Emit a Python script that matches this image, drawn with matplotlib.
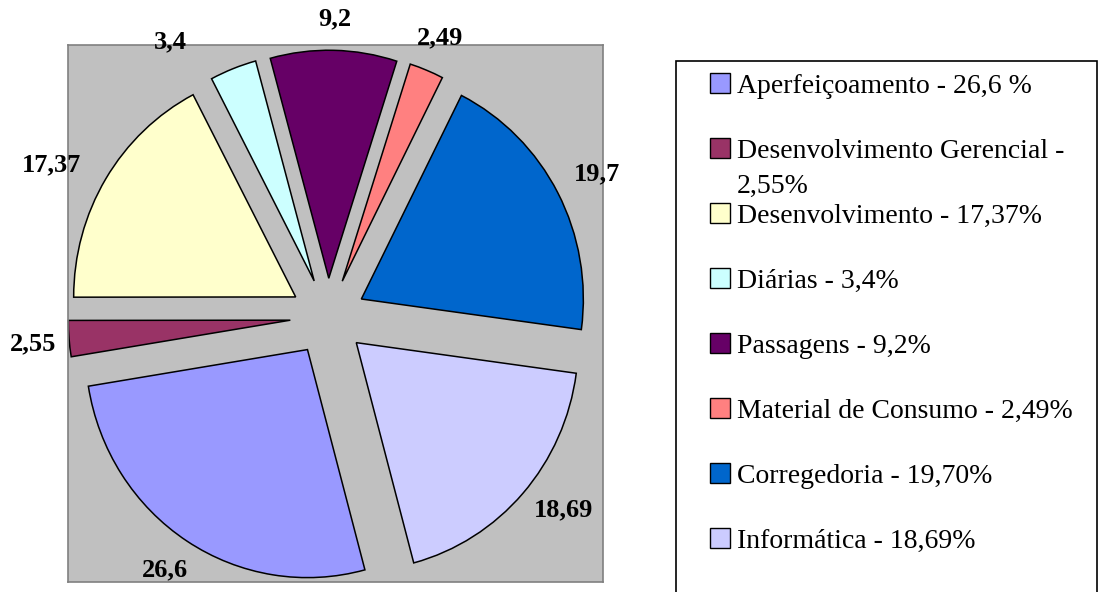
import numpy as np
import matplotlib.pyplot as plt
from matplotlib.patches import Rectangle

categorias = ["Aperfeiçoamento", "Desenvolvimento Gerencial", "Desenvolvimento",
              "Diárias", "Passagens", "Material de Consumo", "Corregedoria", "Informática"]
valores = [26.6, 2.55, 17.37, 3.4, 9.2, 2.49, 19.7, 18.69]
rotulos = ["26,6", "2,55", "17,37", "3,4", "9,2", "2,49", "19,7", "18,69"]
legenda = ["Aperfeiçoamento - 26,6 %", "Desenvolvimento Gerencial -\n2,55%",
           "Desenvolvimento - 17,37%", "Diárias - 3,4%", "Passagens - 9,2%",
           "Material de Consumo - 2,49%", "Corregedoria - 19,70%", "Informática - 18,69%"]
cores = ["#9999FF", "#993366", "#FFFFCC", "#CCFFFF",
         "#660066", "#FF8080", "#0066CC", "#CCCCFF"]

W, H = 1099, 592
fig = plt.figure(figsize=(W / 100, H / 100), dpi=100)
fig.patch.set_facecolor("white")

# area do grafico (cinza)
ax = fig.add_axes([68 / W, 1 - 582 / H, 535 / W, 537 / H])
ax.set_facecolor("#C0C0C0")

wedges, _ = ax.pie(valores, colors=cores, startangle=-75, counterclock=False,
                   explode=[0.17] * len(valores),
                   wedgeprops=dict(edgecolor="black", linewidth=1.1))

# rotulos de dados fora das fatias
ajuste_ang = [-1, 0, 3, 10, 0, 0, 0, 3.5]
dist = [1.15, 1.165, 1.25, 1.24, 1.15, 1.165, 1.20, 1.18]
for w, txt, da, d in zip(wedges, rotulos, ajuste_ang, dist):
    ang = np.deg2rad((w.theta1 + w.theta2) / 2 + da)
    cx, cy = w.center
    ax.text(cx + d * w.r * np.cos(ang), cy + d * w.r * np.sin(ang), txt,
            ha="center", va="center_baseline", fontsize=19, fontweight="bold",
            family="Liberation Serif")

ax.set_aspect("auto")
ax.set_xlim(-1.171, 1.239)
ax.set_ylim(-1.162, 1.193)
ax.set_frame_on(True)
for s in ax.spines.values():
    s.set_color("#808080")
    s.set_linewidth(1.2)
ax.set_xticks([])
ax.set_yticks([])

# legenda
def fx(x):
    return x / W

def fy(y):
    return 1 - y / H

fig.patches.append(Rectangle((fx(676), fy(600)), fx(1097) - fx(676), fy(61) - fy(600),
                             transform=fig.transFigure, facecolor="white",
                             edgecolor="black", linewidth=1.2, zorder=0))
for i, (txt, cor) in enumerate(zip(legenda, cores)):
    y = 83 + 65 * i
    fig.patches.append(Rectangle((fx(710), fy(y + 10)), fx(20), 20 / H,
                                 transform=fig.transFigure, facecolor=cor,
                                 edgecolor="black", linewidth=1.0))
    for k, linha in enumerate(txt.split("\n")):
        fig.text(fx(737), fy(y + 10 + 35 * k), linha, ha="left", va="baseline",
                 fontsize=20, family="Liberation Serif")

fig.savefig("out.png", dpi=100)
